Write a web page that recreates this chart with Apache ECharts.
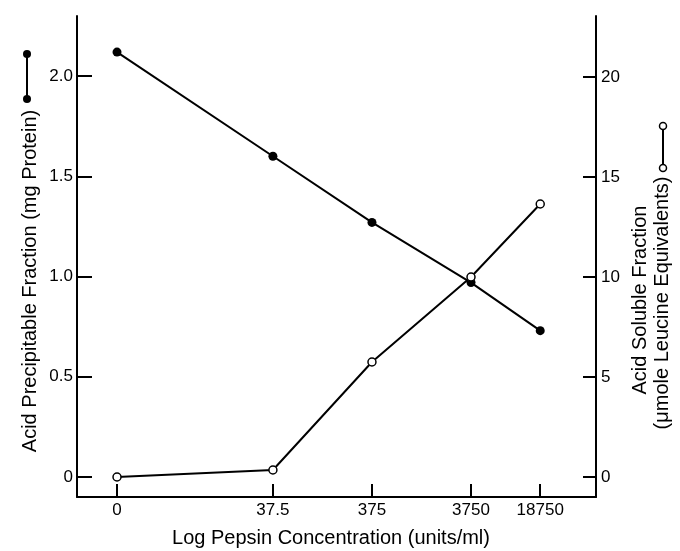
<!DOCTYPE html>
<html>
<head>
<meta charset="utf-8">
<script src="https://cdn.jsdelivr.net/npm/echarts@6/dist/echarts.min.js"></script>
<style>
  html, body { margin: 0; padding: 0; background: #fff; }
  #chart { width: 680px; height: 551px; }
</style>
</head>
<body>
<div id="chart"></div>
<script>
// 数据
var concLabels = ['0', '37.5', '375', '3750', '18750'];
var concValues = [0, 37.5, 375, 3750, 18750];
var precipitable = [2.12, 1.60, 1.27, 0.97, 0.73];   // mg protein
var soluble = [0, 0.35, 5.75, 10.0, 13.65];          // umole leucine equiv.
var leftTicks = [0, 0.5, 1.0, 1.5, 2.0];
var rightTicks = [0, 5, 10, 15, 20];

// log 位置, "0" 画在 log=0 处
var xPos = concValues.map(function (c) { return c > 0 ? Math.log10(c) : 0; });

var font = 'Liberation Sans';

var chart = echarts.init(document.getElementById('chart'));
var option = {
  backgroundColor: '#fff',
  animation: false,
  grid: { left: 77, right: 84, top: 16, bottom: 54 },
  xAxis: {
    type: 'value',
    min: -0.404,
    max: 4.836,
    splitLine: { show: false },
    axisLine: { onZero: false, lineStyle: { color: '#000', width: 2 } },
    axisTick: { inside: true, length: 13, customValues: xPos, lineStyle: { color: '#000', width: 2 } },
    axisLabel: {
      customValues: xPos,
      margin: 5,
      color: '#000',
      fontFamily: font,
      fontSize: 17,
      formatter: function (v) {
        var best = 0;
        for (var i = 0; i < xPos.length; i++) {
          if (Math.abs(xPos[i] - v) < Math.abs(xPos[best] - v)) best = i;
        }
        return concLabels[best];
      }
    }
  },
  yAxis: [{
    type: 'value',
    min: -0.1,
    max: 2.3,
    position: 'left',
    splitLine: { show: false },
    axisLine: { show: true, onZero: false, lineStyle: { color: '#000', width: 2 } },
    axisTick: { show: true, inside: true, length: 15, customValues: leftTicks, lineStyle: { color: '#000', width: 2 } },
    axisLabel: {
      customValues: leftTicks,
      margin: 4,
      color: '#000',
      fontFamily: font,
      fontSize: 17,
      formatter: function (v) { return v === 0 ? '0' : v.toFixed(1); }
    }
  }, {
    type: 'value',
    min: -1,
    max: 23.05,
    position: 'right',
    splitLine: { show: false },
    axisLine: { show: true, onZero: false, lineStyle: { color: '#000', width: 2 } },
    axisTick: { show: true, inside: true, length: 13, customValues: rightTicks, lineStyle: { color: '#000', width: 2 } },
    axisLabel: {
      customValues: rightTicks,
      margin: 5,
      color: '#000',
      fontFamily: font,
      fontSize: 17
    }
  }],
  graphic: [
    // x 轴标题
    { type: 'text', x: 331, y: 538, style: { text: 'Log Pepsin Concentration (units/ml)', font: '20px ' + font, fill: '#000', textAlign: 'center', textVerticalAlign: 'middle' } },
    // 左 y 轴标题
    { type: 'text', x: 30, y: 281, rotation: Math.PI / 2, style: { text: 'Acid Precipitable Fraction (mg Protein)', font: '20px ' + font, fill: '#000', textAlign: 'center', textVerticalAlign: 'middle' } },
    { type: 'line', shape: { x1: 27, y1: 54, x2: 27, y2: 99 }, style: { stroke: '#000', lineWidth: 2 } },
    { type: 'circle', shape: { cx: 27, cy: 54, r: 4 }, style: { fill: '#000' } },
    { type: 'circle', shape: { cx: 27, cy: 99, r: 4 }, style: { fill: '#000' } },
    // 右 y 轴标题
    { type: 'text', x: 640, y: 300, rotation: Math.PI / 2, style: { text: 'Acid Soluble Fraction', font: '20px ' + font, fill: '#000', textAlign: 'center', textVerticalAlign: 'middle' } },
    { type: 'text', x: 662, y: 303, rotation: Math.PI / 2, style: { text: '(\u03bcmole Leucine Equivalents)', font: '20px ' + font, fill: '#000', textAlign: 'center', textVerticalAlign: 'middle' } },
    { type: 'line', shape: { x1: 663, y1: 126, x2: 663, y2: 168 }, style: { stroke: '#000', lineWidth: 2 } },
    { type: 'circle', shape: { cx: 663, cy: 126, r: 3.5 }, style: { fill: '#fff', stroke: '#000', lineWidth: 1.5 } },
    { type: 'circle', shape: { cx: 663, cy: 168, r: 3.5 }, style: { fill: '#fff', stroke: '#000', lineWidth: 1.5 } }
  ],
  series: [{
    name: 'Acid Precipitable',
    type: 'line',
    yAxisIndex: 0,
    data: xPos.map(function (x, i) { return [x, precipitable[i]]; }),
    symbol: 'circle',
    symbolSize: 9,
    itemStyle: { color: '#000' },
    lineStyle: { color: '#000', width: 2 }
  }, {
    name: 'Acid Soluble',
    type: 'line',
    yAxisIndex: 1,
    data: xPos.map(function (x, i) { return [x, soluble[i]]; }),
    symbol: 'circle',
    symbolSize: 8,
    itemStyle: { color: '#fff', borderColor: '#000', borderWidth: 1.5 },
    lineStyle: { color: '#000', width: 2 },
    z: 3
  }]
};
chart.setOption(option);
</script>
</body>
</html>
